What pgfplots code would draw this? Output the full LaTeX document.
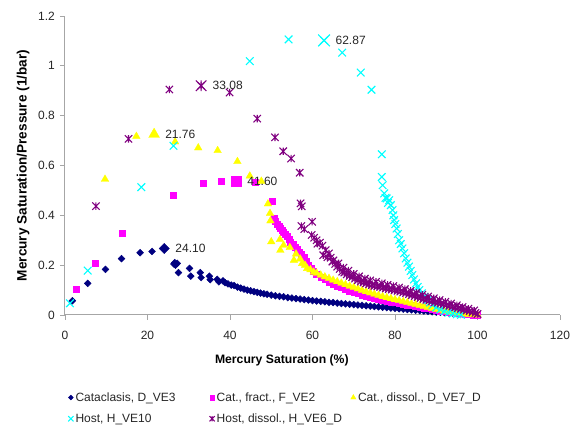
\documentclass[border=0pt]{standalone}
\usepackage{pgfplots}
\pgfplotsset{compat=1.18}
\usepackage{fontspec}
\setmainfont{Liberation Sans}
\definecolor{cnavy}{HTML}{000080}
\definecolor{cmag}{HTML}{FF00FF}
\definecolor{cyel}{HTML}{FFFF00}
\definecolor{ccyan}{HTML}{00FFFF}
\definecolor{cpurp}{HTML}{800080}
\definecolor{txt}{HTML}{262626}
\pgfdeclareplotmark{xstar}{%
  \pgfpathmoveto{\pgfqpoint{-.7071\pgfplotmarksize}{-.7071\pgfplotmarksize}}%
  \pgfpathlineto{\pgfqpoint{.7071\pgfplotmarksize}{.7071\pgfplotmarksize}}%
  \pgfpathmoveto{\pgfqpoint{-.7071\pgfplotmarksize}{.7071\pgfplotmarksize}}%
  \pgfpathlineto{\pgfqpoint{.7071\pgfplotmarksize}{-.7071\pgfplotmarksize}}%
  \pgfpathmoveto{\pgfqpoint{0pt}{-.7071\pgfplotmarksize}}%
  \pgfpathlineto{\pgfqpoint{0pt}{.7071\pgfplotmarksize}}%
  \pgfusepathqstroke}
\newcommand{\fs}{\fontsize{12}{14}\selectfont}
\begin{document}
\begin{tikzpicture}
\useasboundingbox (-65pt,-113pt) rectangle (514pt,315pt);
\begin{axis}[
  scale only axis, width=495pt, height=299pt,
  xmin=0, xmax=120, ymin=0, ymax=1.2,
  xtick={0,20,40,60,80,100,120},
  ytick={0,0.2,0.4,0.6,0.8,1,1.2},
  axis lines*=left,
  axis line style={draw=black!35, line width=1pt},
  tick style={draw=black!35, line width=0.8pt},
  major tick length=5pt, tick align=outside,
  /pgf/number format/assume math mode=true,
  tick label style={font=\fs, text=txt},
  x tick label style={anchor=north, inner sep=0pt, yshift=-11pt},
  y tick label style={anchor=east, inner sep=0pt, xshift=-5pt},
  xlabel={\textbf{Mercury Saturation (\%)}},
  ylabel={\textbf{Mercury Saturation/Pressure (1/bar)}},
  every axis x label/.style={at={(axis description cs:0.438,0)}, yshift=-45pt, anchor=center, font=\fontsize{12.2}{14}\selectfont, text=black},
  every axis y label/.style={at={(axis description cs:0,0.5)}, xshift=-42pt, rotate=90, anchor=center, font=\fontsize{13.6}{16}\selectfont, text=black},
  legend columns=3,
  legend cell align=left,
  legend style={draw=none, fill=none, font=\fs, text=txt, at={(axis description cs:0.0,-0.245)}, anchor=north west, row sep=7pt},
  legend image code/.code={\draw[#1] plot coordinates {(3pt,0pt)};},
  legend image post style={/tikz/every mark/.append style={scale=0.7}},
  clip=false,
]
% Cataclasis
\addplot[only marks, mark=square*, mark size=2.4pt, mark options={rotate=45, fill=cnavy, draw=cnavy, line width=0.5pt}] coordinates {
(1.8,0.057)(5.5,0.127)(9.8,0.183)(13.7,0.226)(18.2,0.25)(21.1,0.255)(24.06,0.267)
(26.4,0.205)(26.8,0.2)(27.2,0.207)(26.6,0.21)(27.5,0.17)(30.2,0.187)(30.5,0.156)(32.8,0.17)(33,0.15)(35,0.156)(35.2,0.142)(36.9,0.143)(37.3,0.133)(38.3,0.137)(38.8,0.13)(39.5,0.125)(40.3,0.12)(41,0.118)(41.8,0.112)(42.6,0.108)(43.4,0.104)(44.2,0.1)(45,0.097)(45.8,0.094)(46.6,0.091)(47.4,0.088)(48.2,0.085)(49,0.083)(50,0.08)(51,0.077)(52,0.075)(53,0.073)(54,0.07)(55,0.068)(56,0.066)(57,0.064)(58,0.062)(59,0.06)(60,0.058)(61,0.056)(62,0.055)(63,0.053)(64,0.051)(65,0.05)(66,0.048)(67,0.046)(68,0.045)(69,0.043)(70,0.042)(71,0.04)(72,0.039)(73,0.037)(74,0.036)(75,0.034)(76,0.033)(77,0.031)(78,0.03)(79,0.028)(80,0.027)(81,0.025)(82,0.024)(83,0.022)(84,0.021)(85,0.019)(86,0.018)(87,0.016)(88,0.015)(89,0.013)(90,0.012)(91,0.011)(92,0.01)(93,0.009)(94,0.008)(95,0.007)(96,0.005)(97,0.004)(98,0.003)(99,0.001)(100,0)
};
\addlegendentry{\makebox[132pt][l]{Cataclasis, D\_VE3}}
% Cat fract
\addplot[only marks, mark=square*, mark size=3pt, mark options={fill=cmag, draw=cmag, line width=0.3pt}] coordinates {
(2.67,0.104)(7.4,0.208)(13.85,0.327)(26.3,0.481)(33.4,0.528)(37.9,0.537)(41.5,0.537)(46.2,0.534)(50.2,0.457)(50.6,0.39)(51,0.375)(51.4,0.365)(51.8,0.355)(52.2,0.347)(52.6,0.34)(53,0.334)(53.4,0.325)(53.9,0.317)(54.3,0.305)(54.7,0.294)(55.3,0.284)(55.9,0.274)(56.3,0.264)(56.7,0.254)(57.3,0.244)(57.9,0.234)(58.5,0.215)(59,0.2)(59.6,0.188)(60.2,0.176)(61,0.165)(62,0.152)(63,0.142)(64,0.133)(65,0.125)(66,0.117)(67,0.11)(68,0.103)(69,0.097)(70,0.091)(71,0.086)(72,0.081)(73,0.076)(74,0.072)(75,0.068)(76,0.064)(77,0.06)(78,0.057)(79,0.053)(80,0.05)(81,0.047)(82,0.044)(83,0.041)(84,0.038)(85,0.035)(86,0.032)(87,0.029)(88,0.026)(89,0.023)(90,0.02)(91,0.017)(92,0.015)(93,0.012)(94,0.01)(95,0.008)(96,0.006)(97,0.004)(98,0.003)(99,0.001)(100,0)
};
\addlegendentry{\makebox[132pt][l]{Cat., fract., F\_VE2}}
% Cat dissol
\addplot[only marks, mark=triangle*, mark size=4.4pt, mark options={fill=cyel, draw=cyel, line width=0.3pt}] coordinates {
(9.7,0.545)(17.3,0.717)(21.6,0.725)(26.7,0.695)(32.3,0.671)(37,0.66)(41.8,0.616)(44.8,0.558)(47.6,0.537)(49.2,0.446)(49.7,0.408)(49.8,0.378)(50,0.294)(52.1,0.303)(52.2,0.26)(53,0.28)(54.5,0.271)(55.5,0.22)(56,0.245)(57,0.225)(57.5,0.207)(58.2,0.2)(58.7,0.187)(59.5,0.182)(60.3,0.172)(61,0.168)(62,0.16)(63,0.153)(64,0.147)(65,0.14)(66,0.134)(67,0.128)(68,0.122)(69,0.116)(70,0.111)(71,0.105)(72,0.099)(73,0.094)(74,0.089)(75,0.084)(76,0.079)(77,0.074)(78,0.07)(79,0.066)(80,0.062)(81,0.058)(82,0.054)(83,0.05)(84,0.046)(85,0.042)(86,0.038)(87,0.034)(88,0.03)(89,0.026)(90,0.022)(91,0.019)(92,0.016)(93,0.013)(94,0.01)(95,0.008)(96,0.006)(97,0.004)(98,0.002)(99,0.001)(100,0)
};
\addlegendentry{Cat., dissol., D\_VE7\_D}
% Host
\addplot[only marks, mark=x, mark size=5.4pt, mark options={draw=ccyan, line width=1.1pt}] coordinates {
(1.2,0.047)(5.5,0.178)(18.5,0.513)(26.3,0.679)(44.8,1.019)(54.2,1.106)(62.8,1.102)(67.2,1.053)(71.7,0.973)(74.3,0.904)(76.8,0.645)(76.8,0.554)(77,0.521)(77.4,0.488)(77.7,0.47)(78,0.468)(78.6,0.461)(78.3,0.45)(79,0.441)(79.4,0.421)(79.6,0.4)(79.8,0.381)(80.1,0.365)(80.4,0.347)(80.7,0.325)(81,0.3)(81.4,0.285)(81.8,0.267)(82.2,0.248)(82.6,0.227)(83,0.21)(83.4,0.194)(83.8,0.177)(84.2,0.16)(84.6,0.143)(85.1,0.127)(85.5,0.113)(85.9,0.1)(86.5,0.087)(87.1,0.073)(87.9,0.06)(88.5,0.05)(89.1,0.04)(90,0.03)(91,0.022)(92,0.015)(93,0.01)(94,0.006)(95,0.003)(96,0.001)
};
\addlegendentry{\makebox[132pt][l]{Host, H\_VE10}}
% Host dissol
\addplot[only marks, mark=xstar, mark size=5.2pt, mark options={draw=cpurp, line width=1.1pt}] coordinates {
(7.5,0.437)(15.4,0.707)(25.3,0.905)(33,0.92)(39.9,0.893)(46.6,0.788)(50.9,0.713)(52.9,0.657)(54.8,0.628)(56.9,0.571)
(57.1,0.448)(57.4,0.436)(57.3,0.357)(58.0,0.345)(59.9,0.374)(59.8,0.321)(60.4,0.31)(61.0,0.3)(61.2,0.286)(61.8,0.29)(62.4,0.278)(62.6,0.24)(63.2,0.26)(64,0.247)(64.4,0.23)(64.8,0.214)(65.5,0.205)(66,0.194)(66.6,0.185)(67.2,0.174)(67.7,0.17)(68.3,0.163)(69,0.157)(69.6,0.152)(70.3,0.146)(71,0.14)(71.7,0.134)(72.4,0.131)(73,0.127)(73.7,0.123)(74.4,0.12)(75,0.117)(75.7,0.115)(76.4,0.113)(77.1,0.11)(77.8,0.107)(78.5,0.104)(79.2,0.102)(79.9,0.099)(80.6,0.097)(81.3,0.094)(82,0.091)(82.7,0.088)(83.4,0.084)(84.1,0.08)(84.8,0.076)(85.5,0.072)(86.2,0.068)(86.9,0.064)(87.6,0.061)(88.3,0.058)(89,0.055)(89.7,0.052)(90.4,0.049)(91.1,0.046)(91.8,0.043)(92.5,0.04)(93.2,0.037)(93.9,0.034)(94.6,0.031)(95.3,0.028)(96,0.025)(96.7,0.021)(97.4,0.018)(98.1,0.015)(98.8,0.011)(99.5,0.008)(100,0.004)
(63.6,0.232)(65.1,0.219)(66.3,0.207)(67.5,0.19)(68.7,0.178)(70,0.165)(71.3,0.155)(72.7,0.146)(74,0.139)(75.4,0.133)(76.8,0.127)(78.2,0.121)(79.6,0.116)(81,0.11)(82.4,0.104)(83.8,0.097)(85.2,0.089)(86.6,0.081)(88,0.074)(89.4,0.067)(90.8,0.06)(92.2,0.053)(93.6,0.046)(95,0.039)(96.4,0.032)(97.8,0.025)(99.2,0.018)
};
\addlegendentry{Host, dissol., H\_VE6\_D}
% highlighted points with labels
\addplot[forget plot, only marks, mark=square*, mark size=3.6pt, mark options={rotate=45, fill=cnavy, draw=cnavy},
  nodes near coords, point meta=explicit symbolic,
  nodes near coords style={anchor=west, inner sep=0pt, xshift=11pt, font=\fs, text=txt}] coordinates {(24.06,0.267)[24.10]};
\addplot[forget plot, only marks, mark=square*, mark size=4.8pt, mark options={fill=cmag, draw=cmag},
  nodes near coords, point meta=explicit symbolic,
  nodes near coords style={anchor=west, inner sep=0pt, xshift=11pt, font=\fs, text=txt}] coordinates {(41.5,0.537)[41.60]};
\addplot[forget plot, only marks, mark=triangle*, mark size=6.2pt, mark options={fill=cyel, draw=cyel},
  nodes near coords, point meta=explicit symbolic,
  nodes near coords style={anchor=west, inner sep=0pt, xshift=11pt, font=\fs, text=txt}] coordinates {(21.6,0.725)[21.76]};
\addplot[forget plot, only marks, mark=x, mark size=8.3pt, mark options={draw=ccyan, line width=1.2pt},
  nodes near coords, point meta=explicit symbolic,
  nodes near coords style={anchor=west, inner sep=0pt, xshift=11pt, font=\fs, text=txt}] coordinates {(62.8,1.102)[62.87]};
\addplot[forget plot, only marks, mark=xstar, mark size=7.5pt, mark options={draw=cpurp, line width=1.2pt},
  nodes near coords, point meta=explicit symbolic,
  nodes near coords style={anchor=west, inner sep=0pt, xshift=11pt, font=\fs, text=txt}] coordinates {(33,0.92)[33.08]};
\end{axis}
\end{tikzpicture}
\end{document}
